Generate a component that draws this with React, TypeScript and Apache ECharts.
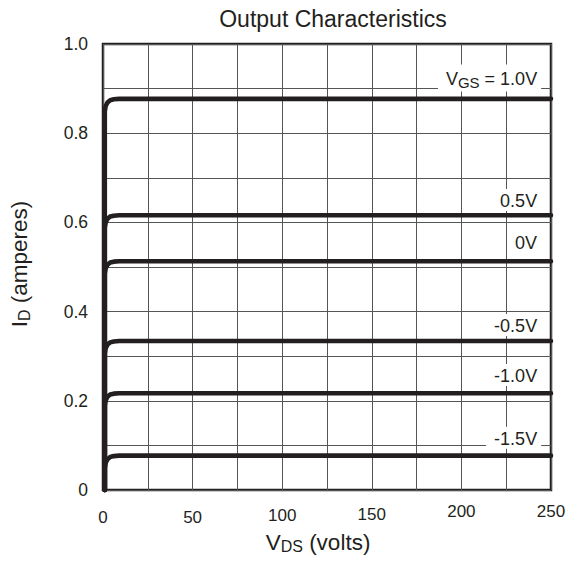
import React, { useEffect, useRef } from 'react';
import * as echarts from 'echarts';

// V_DS (volts) vs I_D (amperes) for each gate voltage
const gateNames = ['VGS = 1.0V', '0.5V', '0V', '-0.5V', '-1.0V', '-1.5V'];
const gateLabelTexts = ['{v|V}{s|GS}{v| = 1.0V}', '{v|0.5V}', '{v|0V}', '{v|-0.5V}', '{v|-1.0V}', '{v|-1.5V}'];

const curveP10 = [[1, 0], [1, 0.849], [1.5, 0.861], [2.5, 0.869], [4, 0.874], [6, 0.876], [9, 0.877], [250, 0.877]];
const curveP05 = [[1, 0], [1, 0.588], [1.5, 0.600], [2.5, 0.608], [4, 0.613], [6, 0.615], [9, 0.616], [250, 0.616]];
const curve0 = [[1, 0], [1, 0.485], [1.5, 0.497], [2.5, 0.505], [4, 0.510], [6, 0.512], [9, 0.513], [250, 0.513]];
const curveM05 = [[1, 0], [1, 0.306], [1.5, 0.318], [2.5, 0.326], [4, 0.331], [6, 0.333], [9, 0.334], [250, 0.334]];
const curveM10 = [[1, 0], [1, 0.189], [1.5, 0.201], [2.5, 0.209], [4, 0.214], [6, 0.216], [9, 0.217], [250, 0.217]];
const curveM15 = [[1, 0], [1, 0.049], [1.5, 0.061], [2.5, 0.069], [4, 0.074], [6, 0.076], [9, 0.077], [250, 0.077]];
const curves = [curveP10, curveP05, curve0, curveM05, curveM10, curveM15];

// label anchors in data coordinates (V_DS, I_D)
const labelVds = [244.5, 244.5, 244.5, 244.5, 244.5, 244.5];
const labelId = [0.924, 0.650, 0.556, 0.370, 0.258, 0.117];

const xTickLabels = ['0', '50', '100', '150', '200', '250'];

const INK = '#231f20';
const FONT = '"Liberation Sans", Arial, Helvetica, sans-serif';

export default function App() {
  const ref = useRef<HTMLDivElement>(null);
  useEffect(() => {
    document.body.style.margin = '0';
    if (!ref.current) return;
    const chart = echarts.init(ref.current, undefined, { renderer: 'svg' });
    const labelRich = {
      v: { fontSize: 18, fontFamily: FONT, color: INK },
      s: { fontSize: 15, fontFamily: FONT, color: INK, padding: [8, 0, 0, 0] },
    };
    const tick = (pad: number) => ({ fontSize: 17, fontFamily: FONT, color: INK, padding: [pad, 0, 0, 0] });
    const series = curves.map((c, i) => ({
      type: 'line',
      name: gateNames[i],
      data: c,
      showSymbol: false,
      symbol: 'none',
      clip: false,
      smooth: false,
      lineStyle: { color: INK, width: 4.6, cap: 'round', join: 'round' },
      z: 3,
      markPoint: {
        symbol: 'circle',
        symbolSize: 0,
        silent: true,
        data: [
          {
            coord: [labelVds[i], labelId[i]],
            label: {
              show: true,
              position: 'left',
              distance: 0,
              formatter: gateLabelTexts[i],
              backgroundColor: '#ffffff',
              padding: [3, 4, 1, 8],
              rich: labelRich,
            },
          },
        ],
      },
    }));
    chart.setOption({
      animation: false,
      textStyle: { fontFamily: FONT },
      title: {
        text: 'Output Characteristics',
        left: 328,
        top: 2,
        textAlign: 'center',
        textStyle: { fontSize: 23, fontWeight: 'normal', color: INK, fontFamily: FONT },
      },
      grid: {
        left: 103,
        right: 18,
        top: 44,
        bottom: 73,
        show: true,
        borderColor: INK,
        borderWidth: 2.5,
        backgroundColor: 'transparent',
      },
      xAxis: {
        type: 'value',
        min: 0,
        max: 250,
        interval: 25,
        name: '{v|V}{s|DS}{v| (volts)}',
        nameLocation: 'middle',
        nameGap: 39,
        nameTextStyle: {
          padding: [0, 18, 0, 0],
          rich: {
            v: { fontSize: 22.5, fontFamily: FONT, color: INK },
            s: { fontSize: 16, fontFamily: FONT, color: INK, padding: [9, 0, 0, 0] },
          },
        },
        axisLine: { show: false },
        axisTick: { show: false },
        splitLine: { show: true, lineStyle: { color: '#555', width: 1 } },
        axisLabel: {
          margin: 13,
          formatter: (v: number) => {
            if (v % 50 !== 0) return '';
            const idx = v / 50;
            return `{p${idx}|${xTickLabels[idx]}}`;
          },
          rich: {
            p0: tick(6),
            p1: tick(6),
            p2: tick(4),
            p3: tick(3),
            p4: tick(0),
            p5: tick(0),
          },
        },
      },
      yAxis: {
        type: 'value',
        min: 0,
        max: 1,
        interval: 0.1,
        name: '{v|I}{s|D}{v| (amperes)}',
        nameLocation: 'middle',
        nameGap: 71,
        nameRotate: 90,
        nameTextStyle: {
          padding: [0, 0, 0, 6],
          rich: {
            v: { fontSize: 22.5, fontFamily: FONT, color: INK },
            s: { fontSize: 16, fontFamily: FONT, color: INK, padding: [9, 0, 0, 0] },
          },
        },
        axisLine: { show: false },
        axisTick: { show: false },
        splitLine: { show: true, lineStyle: { color: '#555', width: 1 } },
        axisLabel: {
          margin: 15,
          fontSize: 17.5,
          color: INK,
          fontFamily: FONT,
          formatter: (v: number) => {
            const t = Math.round(v * 10);
            if (t % 2 !== 0) return '';
            return t === 0 ? '0' : v.toFixed(1);
          },
        },
      },
      series,
    });
    return () => chart.dispose();
  }, []);
  return <div ref={ref} style={{ width: 569, height: 563 }} />;
}
